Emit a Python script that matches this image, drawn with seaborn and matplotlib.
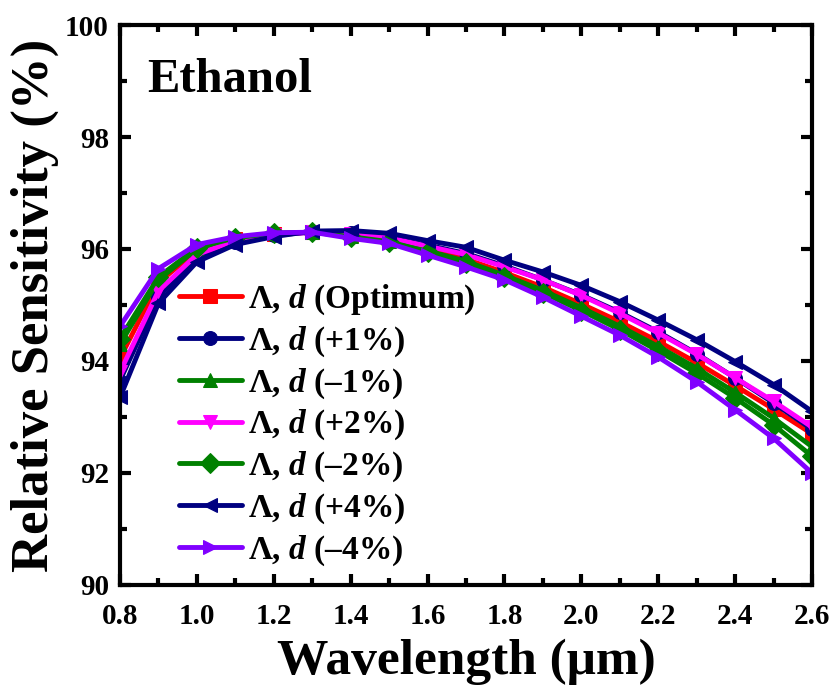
import numpy as np
import pandas as pd
import matplotlib
matplotlib.use('Agg')
import matplotlib.pyplot as plt
from matplotlib.ticker import MultipleLocator, FormatStrFormatter
import seaborn as sns

#%%
wavelength = [0.8, 0.9, 1.0, 1.1, 1.2, 1.3, 1.4, 1.5, 1.6, 1.7,
              1.8, 1.9, 2.0, 2.1, 2.2, 2.3, 2.4, 2.5, 2.6]

opt = [94.05, 95.40, 95.97, 96.18, 96.27, 96.30, 96.25, 96.16, 96.00, 95.82,
       95.58, 95.32, 95.02, 94.70, 94.35, 93.97, 93.56, 93.14, 92.70]
p1 = [93.65, 95.15, 95.85, 96.13, 96.25, 96.30, 96.28, 96.20, 96.07, 95.92,
      95.70, 95.45, 95.18, 94.87, 94.52, 94.13, 93.70, 93.25, 92.78]
m1 = [94.30, 95.45, 96.00, 96.20, 96.28, 96.30, 96.23, 96.14, 95.97, 95.78,
      95.53, 95.26, 94.95, 94.62, 94.26, 93.87, 93.44, 92.98, 92.47]
p2 = [93.80, 95.25, 95.90, 96.15, 96.25, 96.30, 96.27, 96.20, 96.05, 95.90,
      95.68, 95.45, 95.17, 94.85, 94.50, 94.12, 93.70, 93.28, 92.82]
m2 = [94.40, 95.50, 96.02, 96.20, 96.28, 96.30, 96.22, 96.13, 95.95, 95.75,
      95.50, 95.22, 94.90, 94.56, 94.18, 93.78, 93.34, 92.86, 92.30]
p4 = [93.35, 95.03, 95.77, 96.08, 96.22, 96.32, 96.33, 96.28, 96.15, 96.03,
      95.80, 95.59, 95.35, 95.06, 94.73, 94.38, 93.99, 93.58, 93.10]
m4 = [94.62, 95.65, 96.08, 96.22, 96.29, 96.30, 96.19, 96.10, 95.89, 95.68,
      95.45, 95.14, 94.80, 94.46, 94.07, 93.63, 93.13, 92.62, 92.00]

labels = ['Λ, $d$ (Optimum)', 'Λ, $d$ (+1%)', 'Λ, $d$ (\u20131%)', 'Λ, $d$ (+2%)',
          'Λ, $d$ (\u20132%)', 'Λ, $d$ (+4%)', 'Λ, $d$ (\u20134%)']
series = [opt, p1, m1, p2, m2, p4, m4]
colors = ['#ff0000', '#000080', '#008000', '#ff00ff', '#008000', '#000080', '#8000ff']
markers = ['s', 'o', '^', 'v', 'D', '<', '>']

#%%
sns.set_style('ticks')
plt.rcParams['font.family'] = ['Liberation Serif', 'DejaVu Serif']
plt.rcParams['font.weight'] = 'bold'
plt.rcParams['mathtext.fontset'] = 'custom'
plt.rcParams['mathtext.it'] = 'Liberation Serif:italic:bold'
plt.rcParams['mathtext.rm'] = 'Liberation Serif:bold'
for k in ['text.color', 'axes.labelcolor', 'xtick.color', 'ytick.color', 'axes.edgecolor']:
    plt.rcParams[k] = 'black'

fig = plt.figure(figsize=(8.34, 6.87), dpi=100)
ax = fig.add_axes([0.1439, 0.1485, 0.8297, 0.8151])

for vals, lab, c, mk in zip(series, labels, colors, markers):
    df = pd.DataFrame({'wl': wavelength, 'rs': vals})
    sns.lineplot(data=df, x='wl', y='rs', ax=ax, color=c, marker=mk,
                 markersize=10, markeredgecolor=c, linewidth=3.5, label=lab)

ax.set_xlim(0.8, 2.6)
ax.set_ylim(90, 100)
ax.xaxis.set_major_locator(MultipleLocator(0.2))
ax.xaxis.set_minor_locator(MultipleLocator(0.1))
ax.yaxis.set_major_locator(MultipleLocator(2))
ax.yaxis.set_minor_locator(MultipleLocator(1))
ax.xaxis.set_major_formatter(FormatStrFormatter('%.1f'))
ax.tick_params(which='both', direction='in', top=True, right=True, width=3)
ax.tick_params(which='major', length=8, labelsize=21)
ax.tick_params(axis='x', which='major', pad=13)
ax.tick_params(axis='y', which='major', pad=8)
ax.tick_params(which='minor', length=5)
for sp in ax.spines.values():
    sp.set_linewidth(3)

ax.set_xlabel('Wavelength (μm)', fontsize=37, fontweight='bold', labelpad=6)
ax.set_ylabel('Relative Sensitivity (%)', fontsize=38, fontweight='bold', labelpad=4)
ax.text(0.039, 0.88, 'Ethanol', transform=ax.transAxes, fontsize=35, fontweight='bold')

ax.legend(loc='upper left', bbox_to_anchor=(0.085, 0.54), frameon=False,
          fontsize=24, handlelength=1.9, handletextpad=0.18, labelspacing=0.22,
          borderpad=0, borderaxespad=0)

fig.savefig('out.png', dpi=100)
